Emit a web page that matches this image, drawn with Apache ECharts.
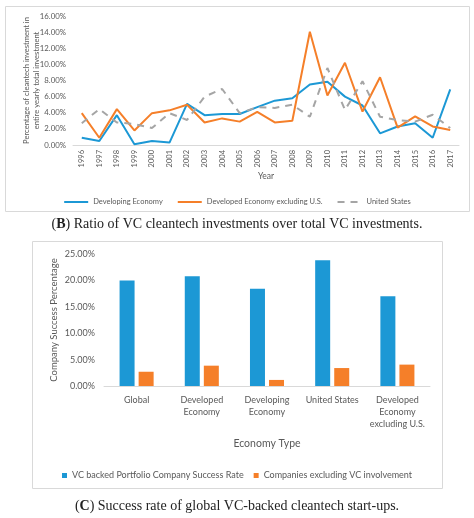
<!DOCTYPE html>
<html>
<head>
<meta charset="utf-8">
<script src="https://cdn.jsdelivr.net/npm/echarts@6/dist/echarts.min.js"></script>
<style>
  html, body { margin: 0; padding: 0; background: #fff; }
  #chart { width: 474px; height: 518px; }
</style>
</head>
<body>
<div id="chart"></div>
<script>
// (B) ratio of VC cleantech investment, in percent
var years = ['1996','1997','1998','1999','2000','2001','2002','2003','2004','2005','2006',
             '2007','2008','2009','2010','2011','2012','2013','2014','2015','2016','2017'];
var developing = [0.9, 0.5, 3.7, 0.1, 0.5, 0.3, 5.1, 3.7, 3.85, 3.85, 4.7,
                  5.5, 5.8, 7.5, 7.85, 6.0, 4.9, 1.45, 2.3, 2.7, 0.9, 6.9];
var developedExUS = [3.95, 0.9, 4.45, 1.8, 3.95, 4.3, 5.0, 2.8, 3.3, 2.9, 4.1,
                     2.8, 3.0, 14.05, 6.15, 10.2, 4.15, 8.4, 2.15, 3.55, 2.3, 1.85];
var unitedStates = [2.7, 4.45, 2.8, 2.6, 2.1, 3.95, 3.1, 6.0, 6.95, 3.95, 4.7,
                    4.6, 5.0, 3.5, 9.55, 4.35, 7.9, 3.5, 3.1, 2.9, 3.75, 2.1];

// (C) success rate, in percent
var economies = ['Global', 'Developed\nEconomy', 'Developing\nEconomy', 'United States',
                 'Developed\nEconomy\nexcluding U.S.'];
var vcBacked = [20.0, 20.8, 18.4, 23.8, 17.0];
var nonVc = [2.7, 3.85, 1.15, 3.4, 4.05];

var BLUE = '#1c98d5', ORANGE = '#f57f29', GRAY = '#a5a5a5';
var TXT = '#595959';
var FONT = 'Lato';
var SERIF = '"Liberation Serif", "DejaVu Serif", serif';

var chart = echarts.init(document.getElementById('chart'));

function pct(v) { return v.toFixed(2) + '%'; }

chart.setOption({
    animation: false,
    textStyle: { fontFamily: FONT },
    grid: [
        { left: 73, right: 15, top: 16, bottom: 373 },
        { left: 104, right: 44, top: 254, bottom: 132 }
    ],
    xAxis: [{
        gridIndex: 0, type: 'category', data: years, boundaryGap: true,
        name: 'Year', nameLocation: 'middle', nameGap: 25,
        nameTextStyle: { color: TXT, fontSize: 8.5, fontFamily: FONT },
        axisLine: { lineStyle: { color: '#d9d9d9' } },
        axisTick: { show: false },
        axisLabel: { rotate: 90, color: TXT, fontSize: 7.5, margin: 5 }
    }, {
        gridIndex: 1, type: 'category', data: economies,
        name: 'Economy Type', nameLocation: 'middle', nameGap: 52,
        nameTextStyle: { color: TXT, fontSize: 10.5, fontFamily: FONT },
        axisLine: { lineStyle: { color: '#d9d9d9' } },
        axisTick: { show: false },
        axisLabel: { color: TXT, fontSize: 9, lineHeight: 12, margin: 8, interval: 0 }
    }],
    yAxis: [{
        gridIndex: 0, type: 'value', min: 0, max: 16, interval: 2,
        name: 'Percentage of cleantech investment in\nentire yearly total investment',
        nameLocation: 'middle', nameGap: 31, nameMoveOverlap: false,
        nameTextStyle: { color: TXT, fontSize: 7.6, lineHeight: 10, fontFamily: FONT },
        splitLine: { show: false },
        axisLine: { show: false }, axisTick: { show: false },
        axisLabel: { color: TXT, fontSize: 7.8, formatter: pct, margin: 7 }
    }, {
        gridIndex: 1, type: 'value', min: 0, max: 25, interval: 5,
        name: 'Company Success Percentage',
        nameLocation: 'middle', nameGap: 45, nameMoveOverlap: false,
        nameTextStyle: { color: TXT, fontSize: 9.5, fontFamily: FONT },
        splitLine: { show: false },
        axisLine: { show: false }, axisTick: { show: false },
        axisLabel: { color: TXT, fontSize: 9, formatter: pct, margin: 9 }
    }],
    legend: [{
        data: ['Developing Economy', 'Developed Economy excluding U.S.', 'United States'],
        left: 'center', top: 193, itemWidth: 24, itemHeight: 8, itemGap: 14,
        itemStyle: { opacity: 0 },
        textStyle: { color: TXT, fontSize: 7.5, fontFamily: FONT }
    }, {
        data: ['VC backed Portfolio Company Success Rate', 'Companies excluding VC involvement'],
        left: 'center', top: 466, icon: 'rect', itemWidth: 5, itemHeight: 5, itemGap: 10,
        textStyle: { color: TXT, fontSize: 9, fontFamily: FONT }
    }],
    series: [{
        name: 'Developing Economy', type: 'line', data: developing,
        xAxisIndex: 0, yAxisIndex: 0, symbol: 'none',
        itemStyle: { color: BLUE }, lineStyle: { color: BLUE, width: 2 }
    }, {
        name: 'Developed Economy excluding U.S.', type: 'line', data: developedExUS,
        xAxisIndex: 0, yAxisIndex: 0, symbol: 'none',
        itemStyle: { color: ORANGE }, lineStyle: { color: ORANGE, width: 2 }
    }, {
        name: 'United States', type: 'line', data: unitedStates,
        xAxisIndex: 0, yAxisIndex: 0, symbol: 'none',
        itemStyle: { color: GRAY }, lineStyle: { color: GRAY, width: 2, type: [7, 6] }
    }, {
        name: 'VC backed Portfolio Company Success Rate', type: 'bar', data: vcBacked,
        xAxisIndex: 1, yAxisIndex: 1, barWidth: 15, barGap: '27%',
        itemStyle: { color: BLUE }
    }, {
        name: 'Companies excluding VC involvement', type: 'bar', data: nonVc,
        xAxisIndex: 1, yAxisIndex: 1, barWidth: 15, barGap: '27%',
        itemStyle: { color: ORANGE }
    }],
    graphic: [
        { type: 'rect', shape: { x: 5.5, y: 6.5, width: 464, height: 205 },
          style: { fill: 'none', stroke: '#d9d9d9', lineWidth: 1 }, silent: true },
        { type: 'rect', shape: { x: 32.5, y: 241.5, width: 410, height: 247 },
          style: { fill: 'none', stroke: '#d9d9d9', lineWidth: 1 }, silent: true },
        { type: 'text', left: 'center', top: 217,
          style: { text: '({b|B}) Ratio of VC cleantech investments over total VC investments.',
                   fill: '#222', font: '14px ' + SERIF,
                   rich: { b: { fontWeight: 'bold', fill: '#222', fontSize: 14, fontFamily: SERIF } } } },
        { type: 'text', left: 'center', top: 499,
          style: { text: '({b|C}) Success rate of global VC-backed cleantech start-ups.',
                   fill: '#222', font: '14px ' + SERIF,
                   rich: { b: { fontWeight: 'bold', fill: '#222', fontSize: 14, fontFamily: SERIF } } } }
    ]
});
</script>
</body>
</html>
